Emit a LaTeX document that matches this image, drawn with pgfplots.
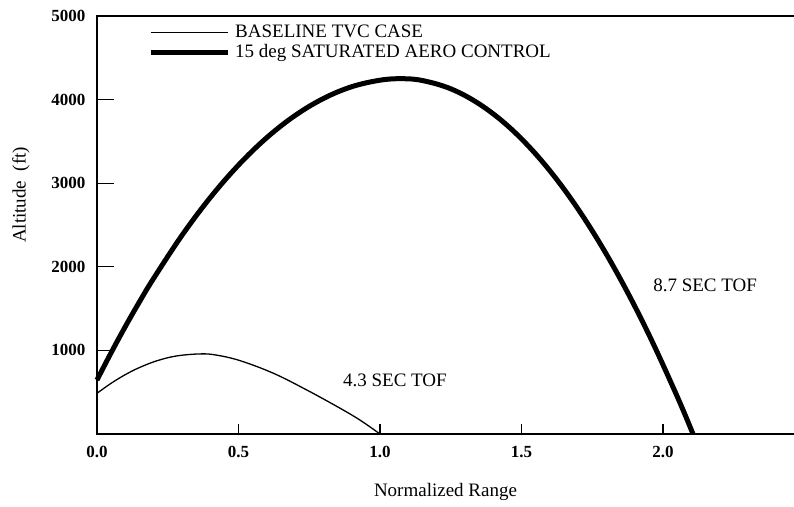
\documentclass[border=0pt]{standalone}
\usepackage{fontspec}
\setmainfont{Liberation Serif}
\usepackage{pgfplots}
\pgfplotsset{compat=1.18}
\begin{document}
\begin{tikzpicture}
\begin{axis}[
  at={(0pt,0pt)}, anchor=south west,
  scale only axis, width=697pt, height=418pt,
  xmin=0, xmax=2.4629, ymin=0, ymax=5000,
  clip=false,
  axis line style={draw=none},
  xtick={0,0.5,1,1.5,2},
  ytick={1000,2000,3000,4000,5000},
  xtick pos=bottom, ytick pos=left,
  tick align=inside,
  xtick style={black, line width=1.1pt, /pgfplots/major tick length=10pt},
  ytick style={black, line width=1.1pt, /pgfplots/major tick length=17pt},
  /pgf/number format/assume math mode=true,
  xticklabel style={/pgf/number format/fixed, /pgf/number format/fixed zerofill, /pgf/number format/precision=1, font=\fontsize{17}{17}\selectfont\bfseries, yshift=-9pt},
  yticklabel style={/pgf/number format/1000 sep={}, font=\fontsize{17}{17}\selectfont\bfseries, xshift=-8pt},
  scaled ticks=false,
  xlabel={Normalized Range},
  ylabel={Altitude\ \ (ft)},
  xlabel style={at={(axis description cs:0.5,-0.139)}, anchor=center, font=\fontsize{19}{20}\selectfont},
  ylabel style={at={(axis description cs:-0.109,0.572)}, anchor=center, font=\fontsize{19}{20}\selectfont},
  legend image code/.code={\draw[#1] (0pt,0pt) -- (77pt,0pt);},
  legend cell align=left,
  legend style={draw=none, fill=none, at={(axis description cs:0.0732,0.981)}, anchor=north west,
    inner sep=0pt, row sep=3pt, font=\fontsize{19}{20}\selectfont,
    nodes={inner sep=0pt, text height=13pt, text depth=4pt},
    /tikz/every odd column/.append style={column sep=5pt}},
]
\addplot[black, line width=1.3pt, smooth, tension=0.6] coordinates {
 (0,487) (0.05,607) (0.1,710) (0.15,795) (0.211,875) (0.28,933) (0.364,958) (0.42,945) (0.505,878) (0.623,727) (0.741,527) (0.859,308) (0.93,165) (1.0,0)
};
\addlegendentry{BASELINE TVC CASE}
\addplot[black, line width=5pt, smooth, tension=0.6] coordinates {
 (0,646) (0.05,973) (0.1,1285) (0.15,1581) (0.2,1861) (0.3,2375) (0.4,2827) (0.5,3217) (0.6,3545) (0.7,3810) (0.8,4013) (0.9,4154) (1.0,4232) (1.076,4250) (1.15,4228) (1.25,4129) (1.35,3949) (1.45,3690) (1.55,3350) (1.65,2930) (1.75,2430) (1.85,1850) (1.95,1190) (2.05,450) (2.106,0)
};
\addlegendentry{15 deg SATURATED AERO CONTROL}
\draw[black, line width=1.3pt] (rel axis cs:1,1) -- (rel axis cs:0,1) -- (rel axis cs:0,0) -- (rel axis cs:1,0);
\node[anchor=west, font=\fontsize{19}{20}\selectfont, inner sep=0pt] at (axis cs:0.869,646) {4.3 SEC TOF};
\node[anchor=west, font=\fontsize{19}{20}\selectfont, inner sep=0pt] at (axis cs:1.965,1782) {8.7 SEC TOF};
\end{axis}
\pgfresetboundingbox
\path (-97pt,-72pt) rectangle (697pt,434pt);
\end{tikzpicture}
\end{document}
